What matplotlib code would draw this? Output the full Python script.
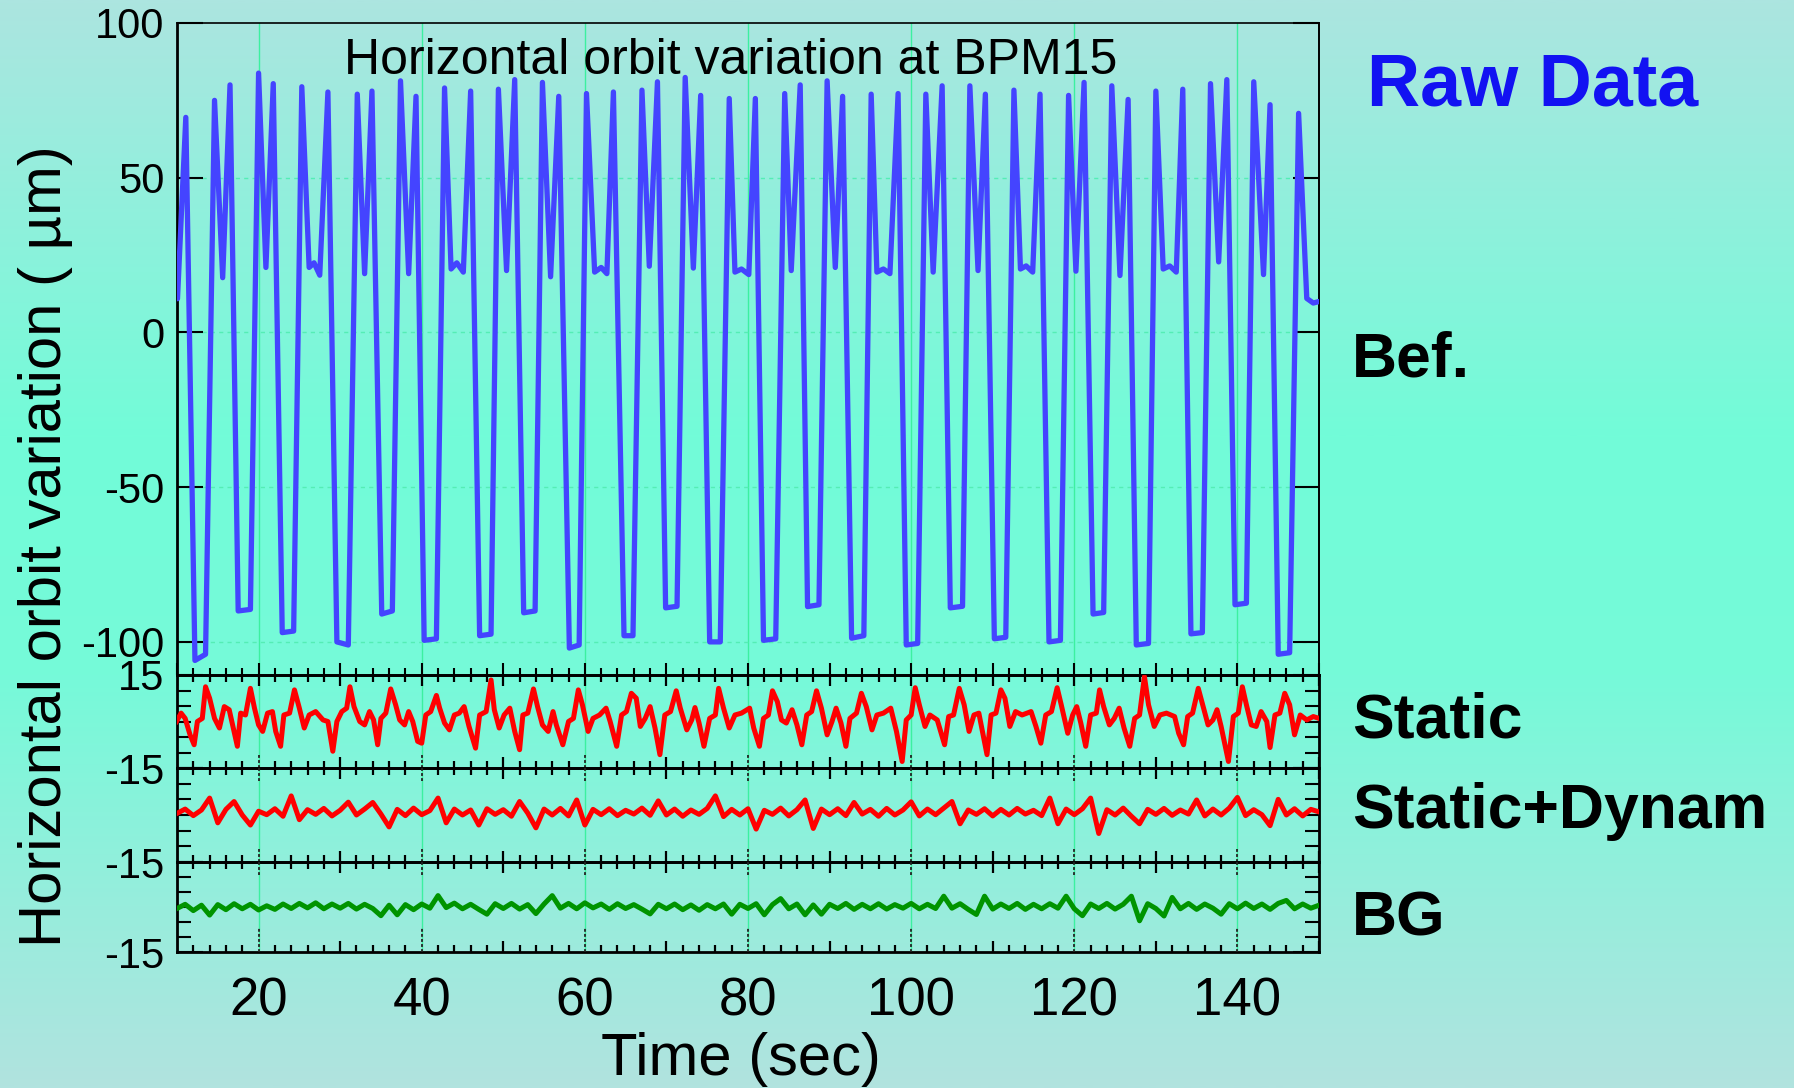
import numpy as np
import matplotlib
matplotlib.use("Agg")
import matplotlib.pyplot as plt
from matplotlib.colors import LinearSegmentedColormap
from matplotlib.ticker import FixedLocator
import matplotlib.transforms as mtransforms

# ---------------- data ----------------
blue_t = [
    10.06, 11.08, 12.2, 13.5, 14.6, 15.6, 16.5, 17.5, 19.0, 20.0,
    20.9, 21.8, 22.9, 24.3, 25.3, 26.2, 26.8, 27.5, 28.5, 29.6,
    31.0, 32.1, 33.0, 33.9, 35.1, 36.4, 37.4, 38.4, 39.3, 40.3,
    41.8, 42.8, 43.6, 44.3, 45.1, 46.0, 47.1, 48.5, 49.4, 50.4,
    51.4, 52.5, 53.9, 54.8, 55.8, 56.8, 58.1, 59.3, 60.2, 61.2,
    62.0, 62.7, 63.5, 64.8, 65.9, 67.0, 67.9, 68.9, 69.9, 71.3,
    72.3, 73.3, 74.2, 75.3, 76.6, 77.7, 78.4, 79.2, 80.1, 80.9,
    81.9, 83.4, 84.5, 85.3, 86.4, 87.3, 88.7, 89.7, 90.7, 91.6,
    92.7, 94.2, 95.1, 95.8, 96.6, 97.4, 98.4, 99.4, 100.8, 101.8,
    102.7, 103.8, 104.8, 106.3, 107.2, 108.2, 109.1, 110.2, 111.6, 112.6,
    113.4, 114.1, 114.9, 115.8, 116.9, 118.3, 119.3, 120.2, 121.2, 122.3,
    123.6, 124.6, 125.6, 126.6, 127.6, 129.1, 130.0, 130.9, 131.7, 132.5,
    133.3, 134.3, 135.7, 136.7, 137.7, 138.7, 139.7, 141.1, 142.0, 143.2,
    144.0, 145.0, 146.4, 147.5, 148.5, 149.3, 150.0]
blue_v = [
    10.9, 69.5, -106, -104, 75, 17.7, 80, -90, -89.5, 83.8,
    21, 80.4, -97, -96.5, 79.4, 21, 22.5, 18.5, 77.7, -100,
    -101, 77, 19, 78, -91, -90, 81.3, 19, 76.3, -99.5,
    -99, 79, 20.5, 22.5, 19.5, 78, -98, -97.5, 78.6, 20,
    81.7, -90.6, -90, 80.8, 18, 76.3, -102, -101, 77.2, 19.5,
    21, 19, 77.7, -98, -98, 78.3, 21.4, 81, -89, -88.5,
    82.4, 20.8, 76.6, -100, -100, 75.6, 19.5, 20.5, 18.7, 75.6,
    -99.5, -99, 77.2, 20, 80, -88.6, -88, 81.3, 21, 76.3,
    -98.8, -98, 77, 19.5, 20.5, 19, 77.2, -101, -100.5, 77,
    19.5, 79.7, -89, -88.5, 79.7, 20, 77, -99, -98.5, 78.3,
    20.5, 21.5, 19.5, 77, -100, -99.5, 76.6, 19.8, 80.8, -91,
    -90.5, 79.7, 18.4, 75.3, -101, -100.5, 78, 20.5, 21.5, 19.5,
    78.6, -97.4, -97, 80.4, 22.8, 81.7, -88, -87.5, 81, 18.7,
    73.6, -104, -103.5, 70.8, 11, 9.5, 10]

static_t = [
    9.94, 10.5, 11.0, 11.6, 12.1, 12.5, 13.1, 13.5, 14.0, 14.6,
    15.2, 15.8, 16.4, 17.0, 17.4, 17.8, 18.4, 19.0, 19.5, 20.0,
    20.5, 21.1, 21.7, 22.1, 22.7, 23.1, 23.8, 24.4, 25.0, 25.6,
    26.2, 27.0, 27.9, 28.5, 29.1, 29.6, 30.2, 30.8, 31.2, 31.7,
    32.4, 33.0, 33.6, 34.1, 34.6, 35.0, 35.6, 36.2, 36.8, 37.3,
    37.9, 38.4, 38.9, 39.5, 40.0, 40.5, 41.1, 41.8, 42.2, 42.8,
    43.4, 44.0, 44.6, 45.2, 45.8, 46.6, 47.1, 47.9, 48.5, 48.9,
    49.5, 50.1, 50.8, 51.4, 52.0, 52.4, 53.0, 53.7, 54.2, 54.8,
    55.5, 56.1, 56.5, 57.3, 58.0, 58.6, 59.2, 59.7, 60.4, 61.0,
    61.8, 62.6, 63.1, 63.9, 64.5, 65.1, 65.7, 66.3, 66.8, 67.4,
    68.0, 68.6, 69.2, 69.8, 70.5, 71.2, 71.7, 72.5, 73.1, 73.5,
    74.0, 74.6, 75.3, 76.0, 76.4, 77.0, 77.7, 78.4, 79.2, 80.2,
    80.7, 81.4, 81.9, 82.5, 83.0, 83.6, 84.1, 84.7, 85.4, 86.0,
    86.6, 87.2, 87.8, 88.4, 89.0, 89.7, 90.3, 90.8, 91.4, 92.0,
    92.5, 93.3, 93.9, 94.5, 95.2, 95.8, 96.6, 97.5, 98.2, 98.9,
    99.4, 100.0, 100.5, 101.0, 101.7, 102.3, 103.2, 104.1, 104.6, 105.2,
    105.9, 106.5, 107.1, 107.7, 108.3, 108.7, 109.3, 109.8, 110.4, 111.0,
    111.5, 112.1, 112.8, 113.6, 114.7, 115.3, 115.9, 116.5, 117.2, 117.9,
    118.4, 119.2, 119.8, 120.3, 120.8, 121.4, 122.0, 122.7, 123.1, 123.6,
    124.3, 124.9, 125.5, 126.1, 126.8, 127.4, 128.0, 128.6, 129.1, 129.8,
    130.5, 131.3, 132.3, 132.8, 133.4, 133.9, 134.5, 135.2, 135.8, 136.4,
    137.0, 137.5, 138.0, 138.9, 139.5, 140.1, 140.6, 141.1, 141.7, 142.3,
    142.9, 143.6, 144.0, 144.6, 145.2, 145.8, 146.4, 147.0, 147.7, 148.5,
    149.3, 150.0]
static_v = [
    0, 2.7, 1, -4.3, -7.5, 0, 1, 11.2, 7.5, 1,
    -2.1, 4.8, 3.8, -3.2, -8.0, 2.7, 2.1, 10.7, 4.3, -1.1,
    -3.2, 2.7, 3.2, -3.2, -8.0, 2.1, 2.7, 10.2, 4.3, -2.1,
    2.1, 3.2, 0.5, 0, -9.6, 0, 3.2, 4.3, 11.2, 4.8,
    0, -1.1, 3.2, 0.5, -7.5, 1, 2.7, 10.5, 5.4, 0.5,
    -1.1, 3.2, 0, -6.4, -7, 2.1, 3.2, 8.4, 4.3, -0.5,
    -2.7, 2.1, 2.7, 4.8, -1.6, -8.6, 2.1, 3.2, 13.4, 3.8,
    -2.1, 2.1, 4.3, -3.2, -9.1, 2.1, 2.7, 10.5, 4.8, -1.1,
    -3.2, 3.2, -1.1, -7.5, 0, 1, 10.2, 5.4, -3.2, 1,
    2.1, 4.3, 0, -8.0, 2.1, 3.2, 9.1, 7.5, -1.6, 1,
    4.8, -2.1, -10.7, 2.1, 3.2, 9.9, 4.3, -2.7, 0.5, 4.5,
    -0.5, -8.0, 1, 2.1, 10.7, 4.3, -2.1, 2.1, 2.7, 4.3,
    -2.1, -8.0, 1, 2.1, 9.9, 6.4, 0.5, -0.5, 3.8, -1.1,
    -7.5, 2.1, 3.2, 9.9, 4.3, -4.3, 0, 4.3, -0.5, -8.0,
    1, 2.7, 9.1, 4.8, -2.7, 2.1, 2.7, 4.3, -3.2, -12.9,
    0.5, 2.1, 10.9, 5.4, -1.6, 2.1, 0.5, -7.5, 1.6, 2.1,
    10.7, 5.4, -3.2, 2.1, 2.7, -2.7, -10.7, 2.1, 2.7, 10.2,
    7.5, -1.6, 3.2, 2.1, 3.2, -1.6, -7, 2.1, 3.2, 10.9,
    5.4, -3.8, 2.1, 4.8, -0.5, -8.0, 2.1, 2.7, 10.2, 4.8,
    -1.1, 1, 4.3, -2.1, -8.0, 1, 2.1, 14.5, 5.4, -1.6,
    2.1, 2.7, 1.6, -3.8, -7.5, 1.6, 2.7, 10.7, 4.8, -1.1,
    0.5, 3.8, -1.6, -12.9, 1.6, 2.7, 11.2, 5.4, -1.1, -1.6,
    3.2, 0, -8.4, 2.1, 2.7, 9.1, 5.4, -4.3, 2.1, 0.5,
    1.6, 1]

# Static+Dynam and BG: one value per second, t = 10 ... 150
noise_t = np.arange(10, 151, 1.0)
dyn_v = [
    0.5, 1.9, -0.2, 1.6, 5.4, -2.5, 1.8, 4.3, 0.0, -3.2,
    1.2, 0.1, 2.0, -0.4, 6.1, -1.5, 1.7, 0.2, 2.1, -0.3,
    1.5, 4.1, 0.0, 1.9, 4.0, 0.3, -3.8, 1.8, -0.2, 2.2,
    0.1, 1.4, 5.4, -2.5, 1.9, 0.0, 1.6, -3.2, 2.0, 0.2,
    1.7, -0.4, 4.3, 0.6, -4.1, 1.9, 0.0, 2.1, -0.3, 4.8,
    -3.2, 1.8, 0.1, 2.0, -0.2, 1.5, 0.3, 2.2, -0.1, 4.5,
    0.0, 1.9, -0.4, 1.6, 0.2, 2.1, 6.1, -0.5, 1.8, 0.0,
    2.0, -4.5, 1.5, 0.2, 2.2, -0.3, 1.7, 4.8, -4.3, 1.9,
    0.1, 2.0, -0.2, 4.0, 0.3, 1.8, -0.4, 2.1, 0.0, 1.6,
    4.2, -0.3, 1.9, 0.1, 2.2, 4.3, -2.8, 1.6, 0.2, 2.0,
    -0.3, 1.8, 0.0, 2.1, 0.3, 1.5, -0.2, 5.4, -2.8, 1.9,
    0.1, 2.0, 5.4, -5.9, 1.7, 0.0, 2.2, -0.4, -2.8, 1.8,
    0.2, 2.1, -0.1, 1.6, 0.3, 4.8, -0.3, 1.9, 0.0, 2.2,
    5.6, -0.2, 1.7, 0.1, -3.4, 5.0, 0.0, 2.0, -0.3, 1.8,
    1.0]
bg_v = [
    -0.5, 0.9, -1.2, 0.6, -2.7, 0.8, -0.9, 1.1, -0.6, 0.9,
    -1.0, 0.4, -0.8, 1.0, -0.5, 1.2, -0.3, 1.4, -0.6, 1.0,
    -0.4, 1.2, -0.7, 0.9, -0.5, -2.9, 0.6, -2.6, 0.8, -0.9,
    1.0, -0.4, 3.8, -0.2, 1.3, -0.6, 0.9, -0.8, -2.4, 1.1,
    -0.5, 1.2, -0.7, 0.8, -2.2, 1.0, 3.8, -0.4, 1.2, -0.6,
    1.4, -0.3, 1.0, -0.8, 1.1, -0.5, 0.8, -0.7, -2.3, 0.9,
    -0.6, 1.0, -0.9, 0.7, -1.1, 0.8, -0.6, 1.0, -2.4, 0.9,
    -0.5, 1.1, -2.6, 0.8, 2.8, -0.6, 1.0, -2.6, 0.7, -2.4,
    0.9, -0.5, 1.2, -0.8, 0.9, -0.6, 1.1, -0.7, 0.8, -0.4,
    1.2, -0.6, 0.9, -0.5, 3.6, -0.4, 1.1, -0.8, -2.5, 3.6,
    -0.7, 1.0, -0.5, 1.2, -0.8, 0.9, -0.6, 1.1, -0.4, 3.6,
    -0.6, -2.9, 1.0, -0.5, 1.2, -0.7, 0.9, 3.6, -4.6, 1.1,
    -0.5, -3.0, 3.2, -0.6, 1.2, -0.8, 1.0, -0.4, -2.4, 1.1,
    -0.6, 1.3, -0.5, 1.0, -0.8, 1.2, 2.2, -0.6, 1.0, -0.4,
    0.6]

top_yticks = [-100, -50, 0, 50, 100]
top_yticklabels = ["-100", "-50", "0", "50", "100"]
time_ticks = [20, 40, 60, 80, 100, 120, 140]
time_ticklabels = ["20", "40", "60", "80", "100", "120", "140"]
side_labels = ["Bef.", "Static", "Static+Dynam", "BG"]

title = "Horizontal orbit variation at BPM15"
ylabel = "Horizontal orbit variation ( \u00b5m)"
xlabel = "Time (sec)"

# ---------------- styling ----------------
W, H = 1794, 1088
REG = ["Liberation Sans", "DejaVu Sans"]
NAR = ["Liberation Sans Narrow", "Liberation Sans", "DejaVu Sans"]
BLUE = "#4444FF"
RED = "#FF0000"
GREEN = "#009400"
GRID = "#3CF0A0"

fig = plt.figure(figsize=(W / 100, H / 100), dpi=100)

# background gradient
bgax = fig.add_axes([0, 0, 1, 1], zorder=-10)
cmap = LinearSegmentedColormap.from_list(
    "bg", [(0.0, "#ACE5E0"), (0.40, "#72FCD8"), (0.62, "#76FAD9"), (1.0, "#B1E3DF")])
bgax.imshow(np.linspace(0, 1, 512).reshape(-1, 1), aspect="auto", cmap=cmap,
            extent=[0, 1, 0, 1], origin="upper")
bgax.set_axis_off()


def px_rect(l, t, r, b):
    return [l / W, 1 - b / H, (r - l) / W, (b - t) / H]


L, R = 177, 1319
ax0 = fig.add_axes(px_rect(L, 23, R, 675))
ax1 = fig.add_axes(px_rect(L, 675, R, 768))
ax2 = fig.add_axes(px_rect(L, 768, R, 862))
ax3 = fig.add_axes(px_rect(L, 862, R, 952))
for ax in (ax0, ax1, ax2, ax3):
    ax.set_facecolor("none")
    ax.set_xlim(10, 150)
    for s in ax.spines.values():
        s.set_linewidth(2.0)
        s.set_color("black")
    for x in time_ticks:
        ax.axvline(x, color=GRID, lw=1.0, zorder=0.5)

# ---- top panel ----
ax0.spines["top"].set_linewidth(1.2)
ax0.spines["right"].set_linewidth(1.4)
ax0.set_ylim(-110.7, 100)
for y in top_yticks[:-1]:
    ax0.axhline(y, color="#55EDB5", lw=1.0, ls=(0, (3, 3)), zorder=0.5)
ax0.plot(blue_t, blue_v, color=BLUE, lw=3.8, solid_joinstyle="round",
         solid_capstyle="round", zorder=3)
ax0.set_yticks(top_yticks)
ax0.set_yticklabels(top_yticklabels, fontfamily=NAR, fontsize=30)
ax0.tick_params(axis="y", which="major", direction="in", length=18.5, width=1.5,
                left=True, right=True, pad=9)
ax0.xaxis.set_major_locator(FixedLocator(list(range(10, 151, 10))))
ax0.xaxis.set_minor_locator(FixedLocator(list(range(10, 151, 2))))
ax0.tick_params(axis="x", which="major", direction="in", length=9, width=1.5,
                bottom=True, top=False, labelbottom=False)
ax0.tick_params(axis="x", which="minor", direction="in", length=5, width=1.5,
                bottom=True, top=False)

# ---- lower panels ----
ax1.plot(static_t, static_v, color=RED, lw=3.6, solid_joinstyle="round", zorder=3)
ax2.plot(noise_t, dyn_v, color=RED, lw=3.6, solid_joinstyle="round", zorder=3)
ax3.plot(noise_t, bg_v, color=GREEN, lw=3.6, solid_joinstyle="round", zorder=3)

lower = [(ax1, ["-15", "15"]), (ax2, ["-15", ""]), (ax3, ["-15", ""])]
for ax, labs in lower:
    ax.set_ylim(-15, 15)
    ax.yaxis.set_major_locator(FixedLocator([-15, 15]))
    ax.yaxis.set_minor_locator(FixedLocator([-10, -5, 0, 5, 10]))
    ax.set_yticklabels(labs, fontfamily=NAR, fontsize=30)
    ax.tick_params(axis="y", which="major", direction="in", length=18.5, width=1.5,
                   left=True, right=True, pad=9)
    ax.tick_params(axis="y", which="minor", direction="in", length=10, width=1.5,
                   left=True, right=True)
    ax.tick_params(axis="x", which="both", length=0, bottom=False, top=False,
                   labelbottom=False)


def draw_xticks(ax, side, dashed20, long20=13):
    trans = mtransforms.blended_transform_factory(ax.transData, ax.transAxes)
    hpx = ax.get_position().height * H
    for x in range(10, 151, 2):
        if x % 20 == 0 and dashed20:
            ln, ls, c, lw = long20, (0, (1.6, 1.2)), "#222222", 1.3
        elif x % 10 == 0:
            ln, ls, c, lw = 11, "-", "black", 1.6
        else:
            ln, ls, c, lw = 7, "-", "black", 1.6
        f = ln / hpx
        ys = [0, f] if side == "bottom" else [1 - f, 1]
        ax.plot([x, x], ys, transform=trans, color=c, lw=lw, ls=ls,
                solid_capstyle="butt", zorder=4)


draw_xticks(ax1, "top", False)
draw_xticks(ax1, "bottom", True)
draw_xticks(ax2, "top", True)
draw_xticks(ax2, "bottom", True)
draw_xticks(ax3, "top", True)
draw_xticks(ax3, "bottom", True, long20=24)

ax3.set_xticks(time_ticks)
ax3.set_xticklabels(time_ticklabels, fontfamily=NAR, fontsize=38)
ax3.tick_params(axis="x", which="major", length=0, labelbottom=True, pad=18)

# ---- texts ----
fig.text(731 / W, 1 - 74 / H, title, ha="center", va="baseline",
         fontsize=36, family=REG)
fig.text(46 / W, 1 - 546 / H, ylabel, rotation=90, ha="center", va="center",
         fontsize=43, family=REG)
fig.text(741 / W, 1 - 1075 / H, xlabel, ha="center", va="baseline",
         fontsize=43, family=REG)
fig.text(1367 / W, 1 - 105 / H, "Raw Data", ha="left", va="baseline",
         fontsize=53, fontweight="bold", color="#1212F2", family=REG)
for lab, base in zip(side_labels, [377, 738, 828, 936]):
    fig.text(1352 / W, 1 - base / H, lab, ha="left", va="baseline",
             fontsize=45, fontweight="bold", color="black", family=REG)

fig.savefig("out.png", dpi=100)
